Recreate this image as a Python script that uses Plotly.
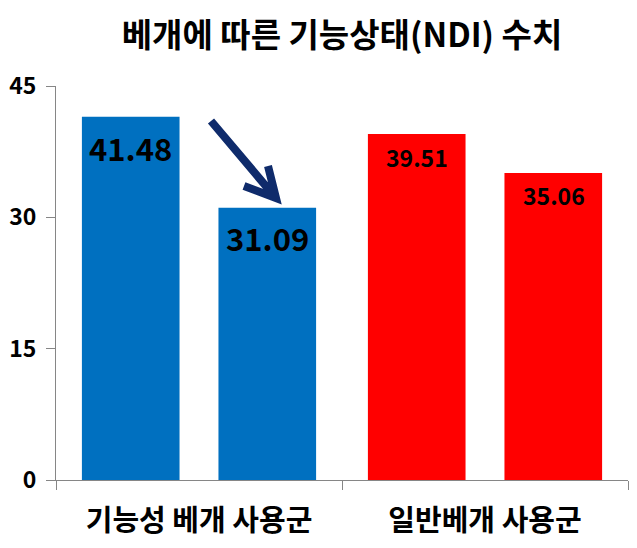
import plotly.graph_objects as go

title = "베개에 따른 기능상태(NDI) 수치"
categories = ["기능성 베개 사용군", "일반베개 사용군"]
first_values = [41.48, 39.51]
second_values = [31.09, 35.06]
group_colors = ["#0070C0", "#FF0000"]
label_sizes = [31, 23]
label_drop = [[31, 30], [23, 22]]
y_ticks = [0, 15, 30, 45]

FONT = "Noto Sans CJK KR"

# page body has an 8px margin; the figure is sized/positioned to compensate
PAGE_OFF = 8
FIG_W, FIG_H = 637 - 2 * PAGE_OFF, 548 - 2 * PAGE_OFF
L, T = 56 - PAGE_OFF, 86 - PAGE_OFF
PLOT_W, PLOT_H = 572, 394
R = FIG_W - L - PLOT_W
B = FIG_H - T - PLOT_H

fig = go.Figure()
fig.add_trace(go.Bar(x=categories, y=first_values, marker=dict(color=group_colors, line=dict(width=0)),
                     showlegend=False, hoverinfo="skip"))
fig.add_trace(go.Bar(x=categories, y=second_values, marker=dict(color=group_colors, line=dict(width=0)),
                     showlegend=False, hoverinfo="skip"))

offset = 68.5
for i, cat in enumerate(categories):
    for j, (vals, sh) in enumerate([(first_values, -offset), (second_values, offset)]):
        fig.add_annotation(x=cat, y=vals[i], xref="x", yref="y", xshift=sh,
                           yshift=-label_drop[i][j], text=f"{vals[i]:.2f}", showarrow=False,
                           font=dict(family=FONT, size=label_sizes[i], color="black", weight="bold"),
                           xanchor="center", yanchor="middle")

# arrow (page pixel geometry converted to paper coords)
def px(x, y):
    return (x - PAGE_OFF - L) / PLOT_W, (T + PLOT_H - (y - PAGE_OFF)) / PLOT_H
tail = px(211, 121)
tip = px(276, 198)
arm1 = px(268, 166)
arm2 = px(244, 186)
path = (f"M {tail[0]},{tail[1]} L {tip[0]},{tip[1]} "
        f"M {arm1[0]},{arm1[1]} L {tip[0]},{tip[1]} L {arm2[0]},{arm2[1]}")
fig.add_shape(type="path", path=path, xref="paper", yref="paper",
              line=dict(color="#0F2B6B", width=8))

fig.update_layout(
    width=FIG_W, height=FIG_H,
    margin=dict(l=L, r=R, t=T, b=B, autoexpand=False),
    paper_bgcolor="white", plot_bgcolor="white",
    barmode="group", bargap=0.045, bargroupgap=0.285,
    title=dict(text=title, x=0.5, xref="paper", xanchor="center", yref="container",
               y=1 - (35 - PAGE_OFF) / FIG_H, yanchor="middle", automargin=False,
               font=dict(family=FONT, size=33, color="black", weight="bold")),
    xaxis=dict(showline=True, linecolor="#868686", linewidth=1, ticks="outside", tickson="boundaries",
               ticklen=9, tickcolor="#868686", showgrid=False, automargin=False,
               tickfont=dict(family=FONT, size=29, color="black", weight="bold"),
               ticklabelstandoff=15),
    yaxis=dict(range=[0, 45], tickvals=y_ticks, showline=True, linecolor="#868686", linewidth=1,
               ticks="outside", ticklen=9, tickcolor="#868686", showgrid=False, zeroline=False,
               automargin=False,
               tickfont=dict(family=FONT, size=23, color="black", weight="bold"),
               ticklabelstandoff=5),
)

fig.write_html("out.html")
